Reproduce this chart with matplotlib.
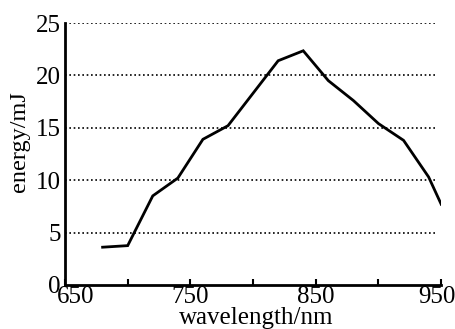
import matplotlib
matplotlib.use("Agg")
import matplotlib.pyplot as plt
from matplotlib.transforms import ScaledTranslation

wavelength = [680, 700, 720, 740, 760, 780, 800, 820, 840, 860, 880, 900, 920, 940, 950]
energy = [3.6, 3.75, 8.5, 10.2, 13.9, 15.2, 18.3, 21.4, 22.35, 19.5, 17.6, 15.4, 13.8, 10.3, 7.7]
xticks = [650, 750, 850, 950]
yticks = [0, 5, 10, 15, 20, 25]

plt.rcParams['font.family'] = ['Liberation Serif', 'DejaVu Serif']

fig = plt.figure(figsize=(4.56, 3.29), dpi=100)
ax = fig.add_axes([0.1425, 0.134, 0.825, 0.796])

ax.plot(wavelength, energy, color='black', lw=2.0, solid_joinstyle='miter')

ax.set_xlim(650, 950)
ax.set_ylim(0, 25)
ax.set_xticks(xticks)
ax.set_xticks([700, 800, 900], minor=True)
ax.set_yticks(yticks)
ax.tick_params(axis='x', which='both', direction='in', length=4, width=1.5, labelsize=18, pad=1)
ax.tick_params(axis='y', length=0, labelsize=18, pad=3)

# shift end x tick labels so they clear the "0" and the figure edge
lbl = ax.get_xticklabels()[0]
lbl.set_transform(lbl.get_transform() + ScaledTranslation(11 / 100, 0, fig.dpi_scale_trans))
lbl = ax.get_xticklabels()[-1]
lbl.set_transform(lbl.get_transform() + ScaledTranslation(-4.5 / 100, 0, fig.dpi_scale_trans))

for y in yticks[1:]:
    ax.axhline(y, color='black', lw=1.2, ls=(0, (1, 1.6)), xmin=0, xmax=0.99)

for s in ['top', 'right']:
    ax.spines[s].set_visible(False)
for s in ['left', 'bottom']:
    ax.spines[s].set_linewidth(2)

ax.set_xlabel('wavelength/nm', fontsize=18)
ax.xaxis.set_label_coords(0.508, -0.128)
ax.xaxis.label.set_va('center')
ax.set_ylabel('energy/mJ', fontsize=17.5)
ax.yaxis.set_label_coords(-0.12, 0.546)
ax.yaxis.label.set_va('center')

fig.savefig('out.png', dpi=100)
